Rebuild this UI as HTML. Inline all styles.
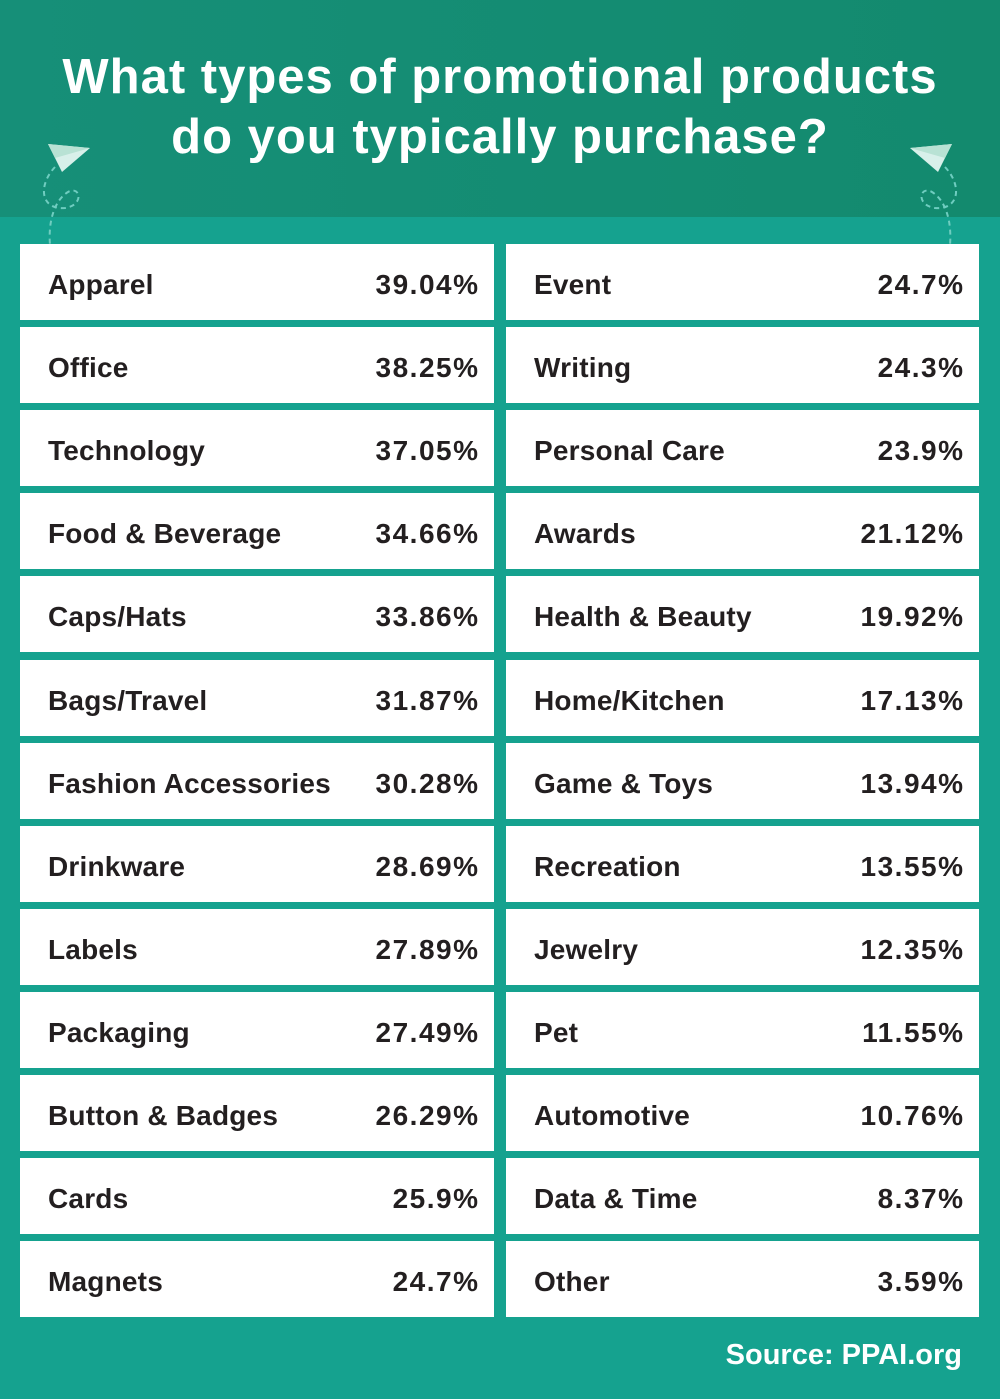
<!DOCTYPE html>
<html><head><meta charset="utf-8"><style>
body{margin:0;width:1000px;height:1399px;background:#15a28f;font-family:"Liberation Sans",sans-serif;position:relative;overflow:hidden}
.hdr{position:absolute;left:0;top:0;width:1000px;height:217px;background:linear-gradient(90deg,#168f78,#138a6e)}
.t{position:absolute;left:0;width:1000px;text-align:center;color:#fff;font-weight:bold;font-size:49px;letter-spacing:1px}
.r{position:absolute;height:76px;background:#fff;color:#231f20;font-weight:bold;font-size:28px;line-height:82px}
.r .l{position:absolute;left:28px;letter-spacing:0.2px}
.r .v{position:absolute;right:16px;letter-spacing:1.5px;margin-right:-1.5px}
.src{position:absolute;right:38px;top:1339px;color:#fff;font-weight:bold;font-size:29px}
</style></head><body>
<div class="hdr"></div>
<div class="t" style="top:49px">What types of promotional products</div>
<div class="t" style="top:109px">do you typically purchase?</div>
<svg style="position:absolute;left:0;top:0" width="1000" height="250">
<g>
<polygon points="48,144 90,148 62,172" fill="#d8f0ea"/>
<polygon points="48,144 90,148 55,158" fill="#b8e2d4"/>
<path d="M55,167 C38,185 40,210 65,208 C85,205 80,185 68,192 C55,200 48,220 50,245" fill="none" stroke="#6fcdc0" stroke-width="2" stroke-dasharray="5,4"/>
</g>
<g transform="translate(1000,0) scale(-1,1)">
<polygon points="48,144 90,148 62,172" fill="#d8f0ea"/>
<polygon points="48,144 90,148 55,158" fill="#b8e2d4"/>
<path d="M55,167 C38,185 40,210 65,208 C85,205 80,185 68,192 C55,200 48,220 50,245" fill="none" stroke="#6fcdc0" stroke-width="2" stroke-dasharray="5,4"/>
</g>
</svg>
<div id="rows"></div>
<div class="src">Source: PPAI.org</div>
<script>
var L=[["Apparel","39.04%"],["Office","38.25%"],["Technology","37.05%"],["Food &amp; Beverage","34.66%"],["Caps/Hats","33.86%"],["Bags/Travel","31.87%"],["Fashion Accessories","30.28%"],["Drinkware","28.69%"],["Labels","27.89%"],["Packaging","27.49%"],["Button &amp; Badges","26.29%"],["Cards","25.9%"],["Magnets","24.7%"]];
var R=[["Event","24.7%"],["Writing","24.3%"],["Personal Care","23.9%"],["Awards","21.12%"],["Health &amp; Beauty","19.92%"],["Home/Kitchen","17.13%"],["Game &amp; Toys","13.94%"],["Recreation","13.55%"],["Jewelry","12.35%"],["Pet","11.55%"],["Automotive","10.76%"],["Data &amp; Time","8.37%"],["Other","3.59%"]];
var h="";
for(var i=0;i<13;i++){var y=Math.round(244+i*83.1);
h+='<div class="r" style="left:20px;width:474px;top:'+y+'px"><span class="l">'+L[i][0]+'</span><span class="v">'+L[i][1]+'</span></div>';
h+='<div class="r" style="left:506px;width:473px;top:'+y+'px"><span class="l">'+R[i][0]+'</span><span class="v">'+R[i][1]+'</span></div>';}
document.getElementById("rows").innerHTML=h;
</script>
</body></html>
